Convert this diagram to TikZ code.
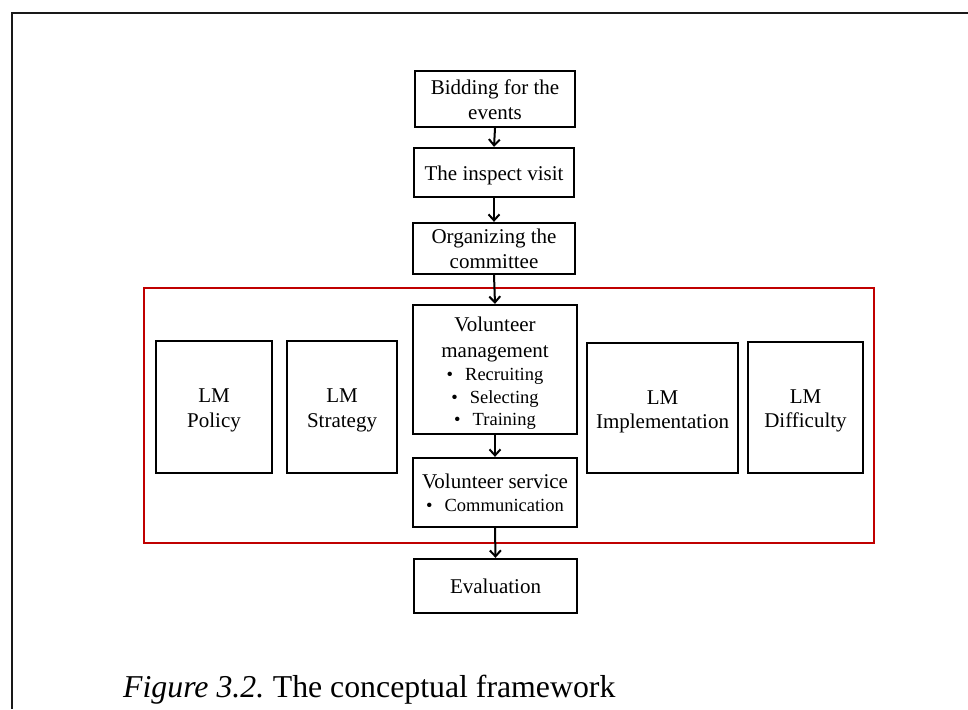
\documentclass[tikz,border=0pt]{standalone}
\usepackage{fontspec}
\setmainfont{Liberation Serif}
\usetikzlibrary{arrows.meta}
\definecolor{framered}{RGB}{192,0,0}
\tikzset{
  box/.style={draw=black, line width=2.3pt, rectangle, inner sep=0pt,
    font=\fontsize{21}{25}\selectfont},
  arr/.style={line width=2pt, -{Straight Barb[length=6pt,width=11pt]}},
  redframe/.style={draw=framered, line width=2.2pt},
}
% bullet-line font
\newcommand{\bul}{\fontsize{18.5}{23}\selectfont}
% centred lines of box text, set a little below the geometric centre
\newcommand{\boxtext}[2][-2.5pt]{\raisebox{#1}[\height][\depth]{\begin{tabular}{@{}c@{}}#2\end{tabular}}}
\begin{document}
\begin{tikzpicture}[x=1pt,y=-1pt]
\useasboundingbox (0,0) rectangle (968,709);
% outer page frame (top and left edges)
\draw[line width=2pt, black!90] (968,13) -- (11.5,13) -- (11.5,709);
% red grouping frame
\draw[redframe] (144,288) rectangle (874,543);
% main flow
\node[box, minimum width=160, minimum height=56] (bid) at (495,99) {\boxtext{Bidding for the\\events}};
\node[box, minimum width=160, minimum height=49] (insp) at (494,172.5) {\boxtext[-3pt]{The inspect visit}};
\node[box, minimum width=162, minimum height=51] (org) at (494,248.5) {\boxtext{Organizing the\\committee}};
\node[box, minimum width=164, minimum height=129] (vm) at (495,369.5)
  {\boxtext[-3.5pt]{Volunteer\\[1pt]management\\[-2pt]{\bul\textbullet\hspace{12pt}Recruiting}\\[-2pt]{\bul\textbullet\hspace{12pt}Selecting}\\[-3pt]{\bul\textbullet\hspace{12pt}Training}}};
\node[box, minimum width=164, minimum height=69] (vs) at (495,492.5)
  {\boxtext[-2pt]{Volunteer service\\[-2pt]{\bul\textbullet\hspace{12pt}Communication}}};
\node[box, minimum width=163, minimum height=54] (eval) at (495.5,586) {Evaluation};
% side boxes
\node[box, minimum width=116, minimum height=132] (pol) at (214,407) {\boxtext[-3pt]{LM\\Policy}};
\node[box, minimum width=110, minimum height=132] (str) at (342,407) {\boxtext[-3pt]{LM\\Strategy}};
\node[box, minimum width=151, minimum height=130] (imp) at (662.5,408) {\boxtext[-3pt]{LM\\[-1pt]Implementation}};
\node[box, minimum width=115, minimum height=131] (dif) at (805.5,407.5) {\boxtext[-3pt]{LM\\[-1pt]Difficulty}};
% connectors
\draw[arr] (bid.south) -- (insp.north);
\draw[arr] (insp.south) -- (org.north);
\draw[arr] (org.south) -- (vm.north);
\draw[arr] (vm.south) -- (vs.north);
\draw[arr] (vs.south) -- (eval.north);
% caption
\node[anchor=base west, inner sep=0pt, font=\fontsize{31.8}{38}\selectfont] (cap) at (123,697)
  {\textit{Figure 3.2.}\hspace{-2pt} The conceptual framework};
\end{tikzpicture}
\end{document}
